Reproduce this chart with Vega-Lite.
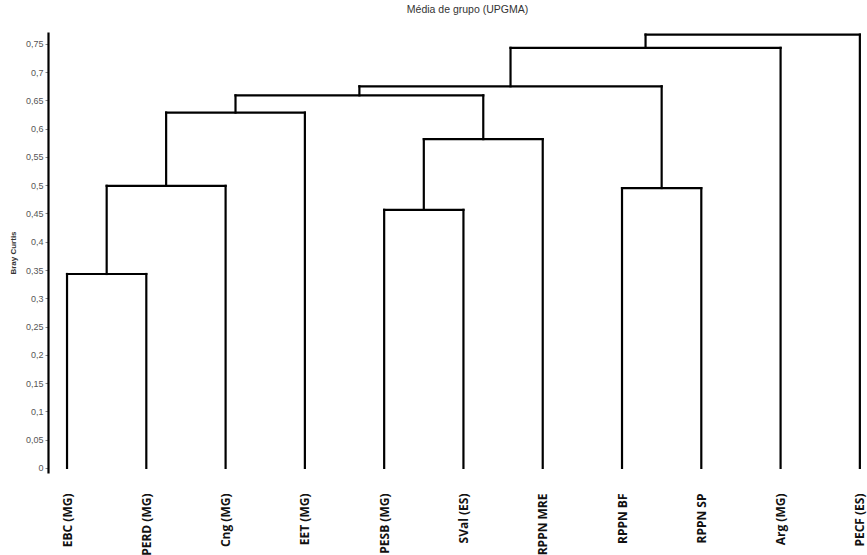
{
  "$schema": "https://vega.github.io/schema/vega-lite/v6.json",
  "autosize": "none",
  "width": 819,
  "height": 441,
  "padding": {"left": 48, "top": 32, "right": 0, "bottom": 82},
  "background": "white",
  "config": {"view": {"stroke": null}},
  "title": {
    "text": "Média de grupo (UPGMA)",
    "anchor": "middle",
    "fontSize": 10.5,
    "font": "Liberation Sans Narrow, Liberation Sans",
    "fontWeight": "normal",
    "color": "#333333",
    "offset": 17,
    "dx": 10
  },
  "data": {
    "values": [
      {"x": 0, "x2": 0, "y": 0, "y2": 0.343},
      {"x": 1, "x2": 1, "y": 0, "y2": 0.343},
      {"x": 2, "x2": 2, "y": 0, "y2": 0.499},
      {"x": 3, "x2": 3, "y": 0, "y2": 0.6285},
      {"x": 4, "x2": 4, "y": 0, "y2": 0.4564},
      {"x": 5, "x2": 5, "y": 0, "y2": 0.4564},
      {"x": 6, "x2": 6, "y": 0, "y2": 0.5815},
      {"x": 7, "x2": 7, "y": 0, "y2": 0.495},
      {"x": 8, "x2": 8, "y": 0, "y2": 0.495},
      {"x": 9, "x2": 9, "y": 0, "y2": 0.743},
      {"x": 10, "x2": 10, "y": 0, "y2": 0.7665},
      {"x": 0, "x2": 1, "y": 0.343, "y2": 0.343},
      {"x": 0.5, "x2": 2, "y": 0.499, "y2": 0.499},
      {"x": 1.25, "x2": 3, "y": 0.6285, "y2": 0.6285},
      {"x": 4, "x2": 5, "y": 0.4564, "y2": 0.4564},
      {"x": 4.5, "x2": 6, "y": 0.5815, "y2": 0.5815},
      {"x": 2.125, "x2": 5.25, "y": 0.659, "y2": 0.659},
      {"x": 7, "x2": 8, "y": 0.495, "y2": 0.495},
      {"x": 3.6875, "x2": 7.5, "y": 0.675, "y2": 0.675},
      {"x": 5.59375, "x2": 9, "y": 0.743, "y2": 0.743},
      {"x": 7.296875, "x2": 10, "y": 0.7665, "y2": 0.7665},
      {"x": 0.5, "x2": 0.5, "y": 0.343, "y2": 0.499},
      {"x": 1.25, "x2": 1.25, "y": 0.499, "y2": 0.6285},
      {"x": 2.125, "x2": 2.125, "y": 0.6285, "y2": 0.659},
      {"x": 4.5, "x2": 4.5, "y": 0.4564, "y2": 0.5815},
      {"x": 5.25, "x2": 5.25, "y": 0.5815, "y2": 0.659},
      {"x": 3.6875, "x2": 3.6875, "y": 0.659, "y2": 0.675},
      {"x": 7.5, "x2": 7.5, "y": 0.495, "y2": 0.675},
      {"x": 5.59375, "x2": 5.59375, "y": 0.675, "y2": 0.743},
      {"x": 7.296875, "x2": 7.296875, "y": 0.743, "y2": 0.7665}
    ]
  },
  "mark": {"type": "rule", "color": "black", "strokeWidth": 2.2, "strokeCap": "square"},
  "encoding": {
    "x": {
      "field": "x",
      "type": "quantitative",
      "scale": {"domain": [-0.24, 10.09], "nice": false, "zero": false},
      "axis": {
        "title": null,
        "grid": false,
        "domain": false,
        "ticks": false,
        "values": [0, 1, 2, 3, 4, 5, 6, 7, 8, 9, 10],
        "labelExpr": "['EBC (MG)', 'PERD (MG)', 'Cng (MG)', 'EET (MG)', 'PESB (MG)', 'SVal (ES)', 'RPPN MRE', 'RPPN BF', 'RPPN SP', 'Arg (MG)', 'PECF (ES)'][datum.value]",
        "labelAngle": -90,
        "labelAlign": "right",
        "labelBaseline": "middle",
        "labelPadding": 20,
        "labelFont": "Open Sans",
        "labelFontWeight": "bold",
        "labelFontSize": 12,
        "labelColor": "#111111",
        "labelOverlap": false,
        "labelBound": false,
        "labelFlush": false
      }
    },
    "x2": {"field": "x2"},
    "y": {
      "field": "y",
      "type": "quantitative",
      "scale": {"domain": [-0.009, 0.771], "nice": false, "zero": false},
      "axis": {
        "title": "Bray Curtis",
        "titleFont": "Liberation Sans Narrow, Liberation Sans",
        "titleFontSize": 8,
        "titleFontWeight": "bold",
        "titleColor": "#333333",
        "titlePadding": 8,
        "grid": false,
        "values": [0, 0.05, 0.1, 0.15, 0.2, 0.25, 0.3, 0.35, 0.4, 0.45, 0.5, 0.55, 0.6, 0.65, 0.7, 0.75],
        "labelExpr": "replace(format(datum.value, '~g'), '.', ',')",
        "labelFont": "Liberation Sans Narrow, Liberation Sans",
        "labelFontSize": 9,
        "labelColor": "#555555",
        "labelPadding": 2,
        "tickSize": 3,
        "tickColor": "#888888",
        "domainColor": "black",
        "domainWidth": 2.2,
        "labelBound": false
      }
    },
    "y2": {"field": "y2"}
  }
}
